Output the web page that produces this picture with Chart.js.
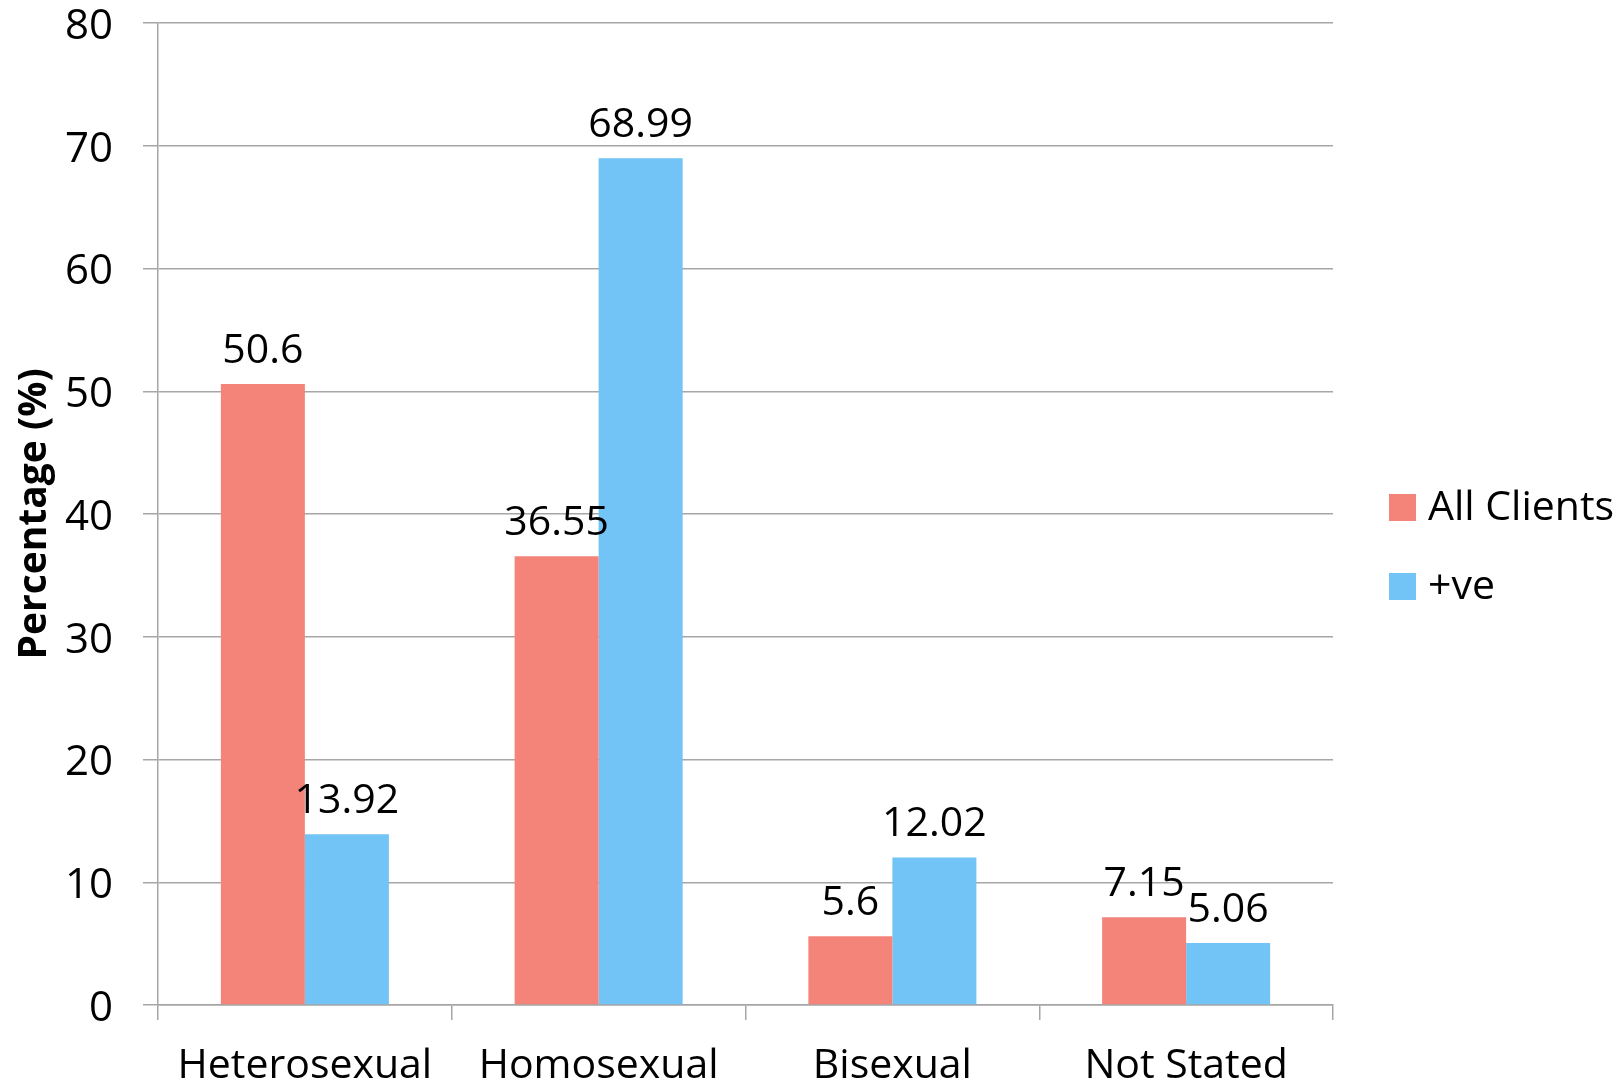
<!DOCTYPE html>
<html>
<head>
<meta charset="utf-8">
<script src="https://cdn.jsdelivr.net/npm/chart.js@4.4.0/dist/chart.umd.min.js"></script>
<style>
  html, body { margin: 0; padding: 0; background: #fff; }
  #wrap { width: 1622px; height: 1090px; }
</style>
</head>
<body>
<div id="wrap"><canvas id="barchart" width="1622" height="1090"></canvas></div>
<script>
const categories = ["Heterosexual", "Homosexual", "Bisexual", "Not Stated"];
const allClients = [50.6, 36.55, 5.6, 7.15];
const positive = [13.92, 68.99, 12.02, 5.06];
const seriesNames = ["All Clients", "+ve"];
const yTicks = [0, 10, 20, 30, 40, 50, 60, 70, 80];

const FONT = "'Open Sans', sans-serif";
const GRID = "#a6a6a6";

// value labels above each bar
const valueLabels = {
  id: "valueLabels",
  afterDatasetsDraw(chart) {
    const ctx = chart.ctx;
    ctx.save();
    ctx.font = "41px " + FONT;
    ctx.fillStyle = "#000";
    ctx.textAlign = "center";
    ctx.textBaseline = "alphabetic";
    chart.data.datasets.forEach((ds, i) => {
      chart.getDatasetMeta(i).data.forEach((bar, j) => {
        ctx.fillText(String(ds.data[j]), bar.x, bar.y - 21);
      });
    });
    ctx.restore();
  }
};

// legend on the right
const sideLegend = {
  id: "sideLegend",
  afterDraw(chart) {
    const ctx = chart.ctx;
    ctx.save();
    ctx.font = "41px " + FONT;
    ctx.textBaseline = "middle";
    ctx.textAlign = "left";
    chart.data.datasets.forEach((ds, i) => {
      const y = 494 + i * 79;
      ctx.fillStyle = ds.backgroundColor;
      ctx.fillRect(1389, y, 27, 27);
      ctx.fillStyle = "#000";
      ctx.fillText(ds.label, 1428, y + 14);
    });
    ctx.restore();
  }
};

new Chart(document.getElementById("barchart"), {
  type: "bar",
  data: {
    labels: categories,
    datasets: [
      {
        label: seriesNames[0],
        data: allClients,
        backgroundColor: "#f4847a",
        categoryPercentage: 0.572,
        barPercentage: 1.0,
      },
      {
        label: seriesNames[1],
        data: positive,
        backgroundColor: "#71c4f5",
        categoryPercentage: 0.572,
        barPercentage: 1.0,
      },
    ],
  },
  options: {
    responsive: false,
    animation: false,
    layout: { padding: { top: 23, right: 289, left: 0, bottom: 0 } },
    plugins: {
      legend: { display: false },
      tooltip: { enabled: false },
    },
    scales: {
      x: {
        afterFit(scale) {
          scale.height = 85;
          scale.paddingLeft = 0;
          scale.paddingRight = 0;
        },
        grid: {
          offset: true,
          drawOnChartArea: false,
          drawTicks: true,
          tickLength: 15,
          color: GRID,
          lineWidth: 1.5,
        },
        border: { display: true, color: GRID, width: 1.5 },
        ticks: { color: "#000", font: { family: FONT, size: 41 }, padding: 22, maxRotation: 0 },
      },
      y: {
        min: 0,
        max: 80,
        afterFit(scale) {
          scale.width = 158;
          scale.paddingTop = 0;
          scale.paddingBottom = 0;
        },
        afterBuildTicks(scale) { scale.ticks = yTicks.map(v => ({ value: v })); },
        grid: {
          drawTicks: true,
          tickLength: 15,
          color: GRID,
          lineWidth: 1.5,
        },
        border: { display: true, color: GRID, width: 1.5 },
        ticks: { color: "#000", font: { family: FONT, size: 42 }, padding: 30, labelOffset: 4 },
        title: {
          display: true,
          text: "Percentage (%)",
          color: "#000",
          font: { family: FONT, size: 39, weight: "bold" },
          padding: { top: 11, bottom: 0 },
        },
      },
    },
  },
  plugins: [valueLabels, sideLegend],
});
</script>
</body>
</html>
